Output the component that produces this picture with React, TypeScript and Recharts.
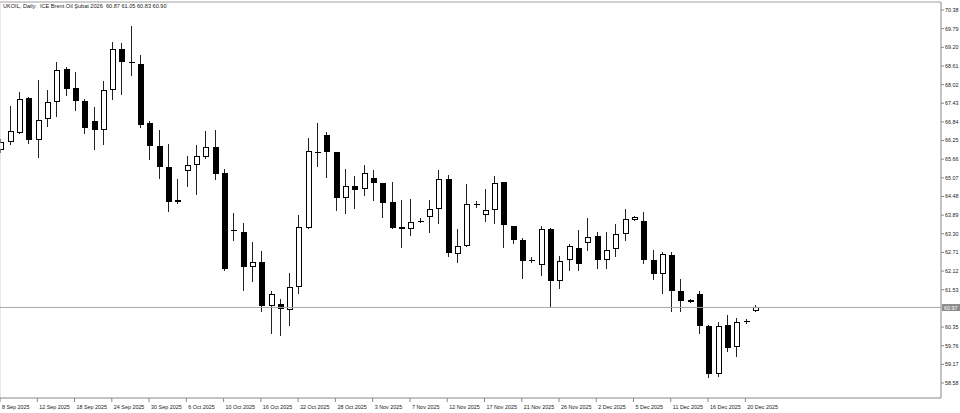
import React from 'react';
import { ComposedChart, Bar, XAxis, YAxis, ReferenceLine } from 'recharts';

// daily OHLC (bar 0 = 8 Sep 2025)
const opens = [
  65.94, 66.19, 66.50, 67.59, 66.28, 66.93, 67.46, 68.51, 67.91, 67.51,
  66.86, 66.59, 67.86, 69.15, 68.75, 68.68, 66.81, 66.09, 65.42, 64.32,
  65.30, 65.49, 65.73, 66.05, 65.23, 63.43, 63.36, 62.26, 62.42, 61.02,
  61.07, 60.89, 61.63, 63.49, 65.88, 66.41, 65.88, 64.44, 64.81, 64.72,
  65.07, 64.91, 64.30, 63.53, 63.46, 63.72, 63.83, 64.07, 65.04, 62.67,
  62.91, 64.23, 63.91, 64.04, 64.93, 63.54, 63.09, 62.46, 62.30, 63.46,
  61.81, 62.47, 62.86, 63.02, 63.23, 62.46, 62.81, 63.28, 63.74, 63.70,
  62.46, 62.02, 62.63, 61.49, 61.13, 61.39, 60.39, 58.87, 60.41, 59.71,
  60.53, 60.87,
];
const highs = [
  66.30, 67.35, 67.80, 67.63, 68.17, 67.86, 68.72, 68.59, 68.43, 67.57,
  67.31, 68.12, 69.38, 69.33, 69.88, 68.96, 66.88, 66.59, 66.14, 65.02,
  65.77, 66.12, 66.54, 66.57, 65.35, 63.97, 63.63, 63.04, 62.76, 61.49,
  61.23, 62.07, 63.91, 66.33, 66.81, 66.51, 65.90, 65.35, 65.12, 65.49,
  65.31, 64.92, 64.94, 64.36, 64.41, 63.81, 64.36, 65.31, 65.17, 63.46,
  64.88, 64.33, 64.72, 65.12, 64.95, 63.56, 63.18, 62.55, 63.54, 63.47,
  62.60, 62.97, 63.42, 63.81, 63.37, 63.36, 63.62, 64.09, 63.85, 63.99,
  62.79, 62.72, 62.72, 61.86, 61.24, 61.49, 60.43, 60.50, 60.73, 60.65,
  60.60, 61.05,
];
const lows = [
  65.85, 66.12, 66.45, 66.15, 65.70, 66.69, 67.01, 67.65, 67.17, 66.47,
  65.96, 66.12, 67.54, 67.70, 68.30, 66.66, 65.65, 65.04, 63.99, 64.23,
  64.79, 64.54, 65.68, 64.99, 62.13, 63.07, 61.49, 61.78, 60.83, 60.13,
  60.07, 60.37, 61.39, 63.46, 65.42, 65.07, 64.02, 63.94, 64.07, 64.51,
  64.33, 63.81, 63.44, 62.86, 63.23, 63.65, 63.34, 63.62, 62.58, 62.37,
  62.89, 64.12, 63.67, 63.60, 62.86, 62.97, 61.86, 62.39, 61.97, 60.97,
  61.55, 62.13, 62.13, 62.76, 62.18, 62.20, 62.55, 63.07, 63.72, 62.34,
  61.84, 61.39, 60.81, 60.81, 61.12, 60.13, 58.73, 58.76, 59.55, 59.41,
  60.46, 60.83,
];
const closes = [
  66.19, 66.54, 67.57, 66.28, 66.89, 67.46, 68.49, 67.88, 67.49, 66.65,
  66.59, 67.86, 69.14, 68.75, 68.73, 66.75, 66.09, 65.41, 64.30, 64.36,
  65.49, 65.75, 66.05, 65.20, 62.20, 63.41, 62.26, 62.42, 61.02, 61.39,
  60.92, 61.63, 63.53, 65.91, 65.86, 65.88, 64.44, 64.81, 64.70, 65.23,
  64.91, 64.28, 63.49, 63.44, 63.68, 63.71, 64.07, 65.04, 62.68, 62.91,
  64.23, 64.22, 64.05, 64.91, 63.57, 63.09, 62.44, 62.45, 63.46, 61.81,
  62.44, 62.91, 62.36, 63.21, 62.46, 62.79, 63.28, 63.76, 63.83, 62.47,
  62.02, 62.65, 61.49, 61.18, 61.22, 60.39, 58.87, 60.39, 59.69, 60.52,
  60.52, 60.97,
];

// one label every 4 bars
const dateLabels = [
  '8 Sep 2025', '12 Sep 2025', '18 Sep 2025', '24 Sep 2025', '30 Sep 2025',
  '6 Oct 2025', '10 Oct 2025', '16 Oct 2025', '22 Oct 2025', '28 Oct 2025',
  '3 Nov 2025', '7 Nov 2025', '12 Nov 2025', '17 Nov 2025', '21 Nov 2025',
  '26 Nov 2025', '2 Dec 2025', '5 Dec 2025', '11 Dec 2025', '16 Dec 2025',
  '20 Dec 2025',
];
const priceTicks = [
  70.38, 69.79, 69.2, 68.61, 68.02, 67.43, 66.84, 66.25, 65.66, 65.07,
  64.48, 63.89, 63.3, 62.71, 62.12, 61.53, 60.35, 59.76, 59.17, 58.58,
];
const lastPrice = 60.97;
const title = 'UKOIL, Daily:  ICE Brent Oil \u015eubat 2026  60.87 61.05 60.83 60.90';

const Y_MIN = 58.105;
const Y_MAX = 70.633;
const X_MAX = 101;
const FONT = '"Liberation Sans", Arial, sans-serif';

const data = opens.map((o, i) => ({
  i,
  o,
  h: highs[i],
  l: lows[i],
  c: closes[i],
  range: [lows[i], highs[i]],
}));
const dateTicks = dateLabels.map((_, k) => k * 4);

const Candle = (props: any) => {
  const { x, y, width, height, payload } = props;
  if (x == null || payload == null) return null;
  const { o, h, l, c } = payload;
  const top0 = Math.min(y, y + height);
  const k = Math.abs(height) / (h - l);
  const py = (p: number) => top0 + (h - p) * k;
  const cx = Math.round(x + width / 2);
  const top = Math.round(py(Math.max(o, c)));
  const bot = Math.round(py(Math.min(o, c)));
  const bull = c > o;
  let body;
  if (bull && bot - top >= 2) {
    body = (
      <rect x={cx - 1.5} y={top + 0.5} width={5} height={Math.max(1, bot - top - 1)} fill="#fff" stroke="#000" strokeWidth={1} />
    );
  } else if (bot - top < 2) {
    body = <rect x={cx - 2} y={top} width={6} height={1} fill="#000" />;
  } else {
    body = <rect x={cx - 2} y={top} width={6} height={bot - top} fill="#000" />;
  }
  return (
    <g>
      <line x1={cx + 0.5} x2={cx + 0.5} y1={Math.round(py(h))} y2={Math.round(py(l))} stroke="#222" strokeWidth={1} />
      {body}
    </g>
  );
};

const DateTick = ({ x, y, payload }: any) => (
  <text x={x + 2} y={y + 5} fontSize={5.4} fontFamily={FONT} fill="#222" textAnchor="start">
    {dateLabels[payload.value / 4]}
  </text>
);

const PriceTag = ({ viewBox }: any) => {
  const yy = Math.round(viewBox.y);
  const xx = viewBox.x + viewBox.width + 1;
  return (
    <g>
      <rect x={xx} y={yy - 3} width={18} height={7} fill="#8c8c8c" />
      <text x={xx + 2} y={yy + 3} fontSize={5.4} fontFamily={FONT} fill="#fff">
        {lastPrice.toFixed(2)}
      </text>
    </g>
  );
};

export default function App() {
  return (
    <div style={{ position: 'absolute', left: 0, top: 0, width: 960, height: 413, background: '#fff' }}>
      <ComposedChart width={960} height={413} data={data} margin={{ top: 2, right: 0, bottom: 0, left: 0 }}>
        <XAxis
          type="number"
          dataKey="i"
          domain={[0, X_MAX]}
          allowDataOverflow
          ticks={dateTicks}
          interval={0}
          height={15}
          tickSize={4}
          tickLine={{ stroke: '#888' }}
          axisLine={{ stroke: '#888' }}
          tick={<DateTick />}
        />
        <YAxis
          orientation="right"
          domain={[Y_MIN, Y_MAX]}
          allowDataOverflow
          ticks={priceTicks}
          interval={0}
          width={19}
          tickSize={3}
          tickMargin={1}
          tickLine={{ stroke: '#888' }}
          axisLine={{ stroke: '#888' }}
          tick={{ fontSize: 5.4, fill: '#222', fontFamily: FONT }}
          tickFormatter={(v: number) => v.toFixed(2)}
        />
        <ReferenceLine y={Y_MAX} stroke="#a0a0a0" />
        <ReferenceLine x={0} stroke="#d0d0d0" />
        <ReferenceLine y={lastPrice} stroke="#a8a8a8" label={<PriceTag />} />
        <Bar dataKey="range" barSize={6} shape={<Candle />} isAnimationActive={false} />
      </ComposedChart>
      <svg width={400} height={10} style={{ position: 'absolute', left: 0, top: 0 }}>
        <text x={3} y={7.5} fontSize={5.6} fontFamily={FONT} fill="#222" style={{ whiteSpace: 'pre' }}>
          {title}
        </text>
      </svg>
    </div>
  );
}
